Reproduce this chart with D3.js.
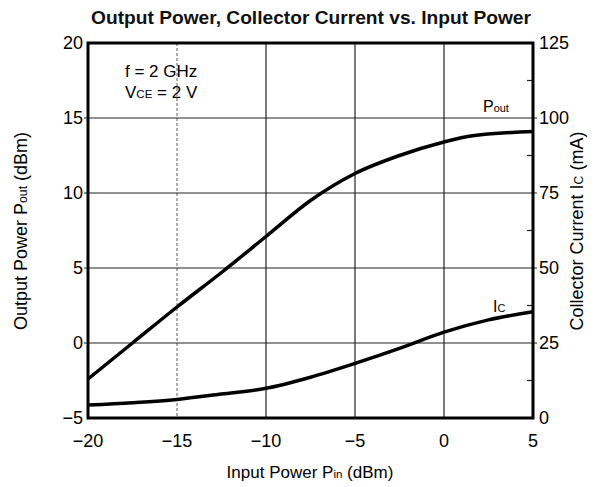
<!DOCTYPE html>
<html><head><meta charset="utf-8">
<script src="https://cdn.jsdelivr.net/npm/d3@7"></script>
<style>body{margin:0;background:#fff}</style>
</head><body><script>
const width = 596, height = 487;

// data
const pinPout = [-20, -17.5, -15, -12.5, -10, -7.5, -5, -2.5, 0, 1.5, 5];
const pout = [-2.4, 0, 2.4, 4.7, 7.1, 9.5, 11.3, 12.5, 13.4, 13.8, 14.1];
const pinIc = [-20, -17.5, -15, -12.5, -10, -7.5, -5, -2.5, 0, 2.5, 5];
const ic = [4.3, 5.1, 6.2, 8.0, 9.9, 13.6, 18.2, 23.2, 28.6, 32.7, 35.4];
const xTicks = [-20, -15, -10, -5, 0, 5];
const leftTicks = [-5, 0, 5, 10, 15, 20];
const rightTicks = [0, 25, 50, 75, 100, 125];
const rightMinor = [12.5, 37.5, 62.5, 87.5, 112.5];

const font = "'Liberation Sans', Arial, sans-serif";
const fmt = d => d < 0 ? "\u2212" + Math.abs(d) : String(d);

const x = d3.scaleLinear().domain([-20, 5]).range([88, 533]);
const yL = d3.scaleLinear().domain([-5, 20]).range([418, 43]);
const yR = d3.scaleLinear().domain([0, 125]).range([418, 43]);

const svg = d3.select("body").append("svg")
    .attr("width", width)
    .attr("height", height)
    .style("font-family", font);

svg.append("text")
    .attr("x", 311)
    .attr("y", 24)
    .attr("text-anchor", "middle")
    .attr("font-size", 18)
    .attr("font-weight", "bold")
    .attr("textLength", 440)
    .attr("lengthAdjust", "spacingAndGlyphs")
    .attr("fill", "#111")
    .text("Output Power, Collector Current vs. Input Power");

// grid
svg.append("g").selectAll("line").data(xTicks.slice(1, -1)).join("line")
    .attr("x1", d => x(d)).attr("x2", d => x(d))
    .attr("y1", yL(20)).attr("y2", yL(-5))
    .attr("stroke", d => d == -15 ? "#777" : "#222")
    .attr("stroke-width", 1.2)
    .attr("stroke-dasharray", d => d == -15 ? "3,2" : null);

svg.append("g").selectAll("line").data(leftTicks.slice(1, -1)).join("line")
    .attr("x1", x(-20) - 4).attr("x2", x(5) + 4)
    .attr("y1", d => yL(d)).attr("y2", d => yL(d))
    .attr("stroke", "#222")
    .attr("stroke-width", 1.2);

svg.append("g").selectAll("line").data(rightMinor).join("line")
    .attr("x1", x(5) - 6).attr("x2", x(5))
    .attr("y1", d => yR(d)).attr("y2", d => yR(d))
    .attr("stroke", "#222")
    .attr("stroke-width", 1.2);

// frame
svg.append("rect")
    .attr("x", x(-20)).attr("y", yL(20))
    .attr("width", x(5) - x(-20)).attr("height", yL(-5) - yL(20))
    .attr("fill", "none")
    .attr("stroke", "#000")
    .attr("stroke-width", 3);

// tick labels
svg.append("g").selectAll("text").data(leftTicks).join("text")
    .attr("x", 83).attr("y", d => yL(d) + 6)
    .attr("text-anchor", "end")
    .attr("font-size", 18)
    .text(fmt);

svg.append("g").selectAll("text").data(rightTicks).join("text")
    .attr("x", 539).attr("y", d => yR(d) + 6)
    .attr("font-size", 18)
    .text(fmt);

svg.append("g").selectAll("text").data(xTicks).join("text")
    .attr("x", d => x(d)).attr("y", 447)
    .attr("text-anchor", "middle")
    .attr("font-size", 18)
    .text(fmt);

// curves
const line = d3.line().curve(d3.curveMonotoneX);
svg.append("path")
    .attr("d", line(pinPout.map((d, i) => [x(d), yL(pout[i])])))
    .attr("fill", "none").attr("stroke", "#000").attr("stroke-width", 3.5);
svg.append("path")
    .attr("d", line(pinIc.map((d, i) => [x(d), yR(ic[i])])))
    .attr("fill", "none").attr("stroke", "#000").attr("stroke-width", 3.5);

// labels with subscripts
function label(px, py, parts, size, anchor, rot) {
  const t = svg.append("text")
      .attr("font-size", size)
      .attr("text-anchor", anchor || "start")
      .attr("transform", `translate(${px},${py})` + (rot ? ` rotate(${rot})` : ""));
  parts.forEach(p => t.append("tspan").attr("font-size", p[1] ? size * 0.68 : size).text(p[0]));
  return t;
}

label(125, 77, [["f = 2 GHz"]], 17);
label(125, 98, [["V"], ["CE", 1], [" = 2 V"]], 17);
label(483, 112, [["P"], ["out", 1]], 16);
label(493, 312, [["I"], ["C", 1]], 16);

label(310, 478, [["Input Power P"], ["in", 1], [" (dBm)"]], 17, "middle");
label(27, 231, [["Output Power P"], ["out", 1], [" (dBm)"]], 18, "middle", -90);
label(583, 231, [["Collector Current I"], ["C", 1], [" (mA)"]], 18, "middle", -90);
</script></body></html>
